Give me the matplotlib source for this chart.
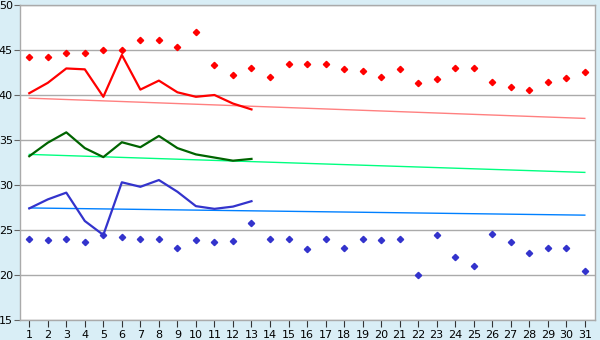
import numpy as np
import matplotlib
matplotlib.use('Agg')
import matplotlib.pyplot as plt

# x positions (days)
days = list(range(1, 32))
days_short = list(range(1, 14))

# upper scatter (red diamonds)
red_pts = [44.2, 44.2, 44.7, 44.7, 45.0, 45.0, 46.1, 46.1, 45.3, 47.0,
           43.3, 42.2, 43.0, 42.0, 43.4, 43.5, 43.5, 42.85, 42.7, 42.0,
           42.85, 41.3, 41.75, 43.0, 43.0, 41.4, 40.85, 40.6, 41.4, 41.85, 42.6]
# lower scatter (blue diamonds)
blue_pts = [24.0, 23.85, 24.0, 23.65, 24.45, 24.2, 24.0, 24.0, 22.97, 23.85,
            23.65, 23.75, 25.75, 24.05, 24.0, 22.85, 24.0, 22.97, 24.0, 23.85,
            24.0, 20.0, 24.5, 21.95, 20.95, 24.6, 23.65, 22.5, 22.97, 22.97, 20.4]

# lines for the first 13 days
red_line = [40.2, 41.35, 42.95, 42.85, 39.8, 44.45, 40.6, 41.6, 40.3, 39.8, 40.0, 39.05, 38.4]
green_line = [33.2, 34.7, 35.85, 34.1, 33.1, 34.75, 34.2, 35.45, 34.1, 33.4, 33.05, 32.7, 32.9]
blue_line = [27.4, 28.4, 29.15, 26.0, 24.45, 30.3, 29.8, 30.55, 29.25, 27.65, 27.35, 27.6, 28.2]

# trend lines (start, end)
trend_x = [1, 31]
red_trend = [39.65, 37.4]
green_trend = [33.4, 31.4]
blue_trend = [27.45, 26.65]

fig = plt.figure(figsize=(6, 3.4), dpi=100)
fig.patch.set_facecolor('#D9EEF6')
ax = fig.add_axes([20/600, 20/340, 575/600, 315/340])
ax.set_facecolor('white')

# trends
ax.plot(trend_x, red_trend, color='#FF8080', lw=1.0, zorder=2)
ax.plot(trend_x, green_trend, color='#00FF80', lw=1.0, zorder=2)
ax.plot(trend_x, blue_trend, color='#0080FF', lw=1.0, zorder=2)

# main lines
ax.plot(days_short, red_line, color='#FF0000', lw=1.6, zorder=3)
ax.plot(days_short, green_line, color='#006400', lw=1.6, zorder=3)
ax.plot(days_short, blue_line, color='#3333CC', lw=1.6, zorder=3)

# scatter points
ax.plot(days, red_pts, ls='none', marker='D', ms=3.2, color='#FF0000', zorder=4)
ax.plot(days, blue_pts, ls='none', marker='D', ms=3.2, color='#3333CC', zorder=4)

ax.set_xlim(0.5, 31.55)
ax.set_ylim(15, 50)
ax.set_xticks(days)
ax.set_yticks(range(15, 51, 5))
ax.yaxis.grid(True, color='#AAAAAA', lw=1.0)
ax.set_axisbelow(True)

for s in ax.spines.values():
    s.set_color('#AAAAAA')
    s.set_linewidth(1.0)

ax.tick_params(axis='x', direction='out', length=5, color='#333333', labelsize=8, pad=2)
ax.tick_params(axis='y', direction='out', length=4, color='#666666', labelsize=8, pad=1)

fig.savefig('out.png', dpi=100, facecolor=fig.get_facecolor())
